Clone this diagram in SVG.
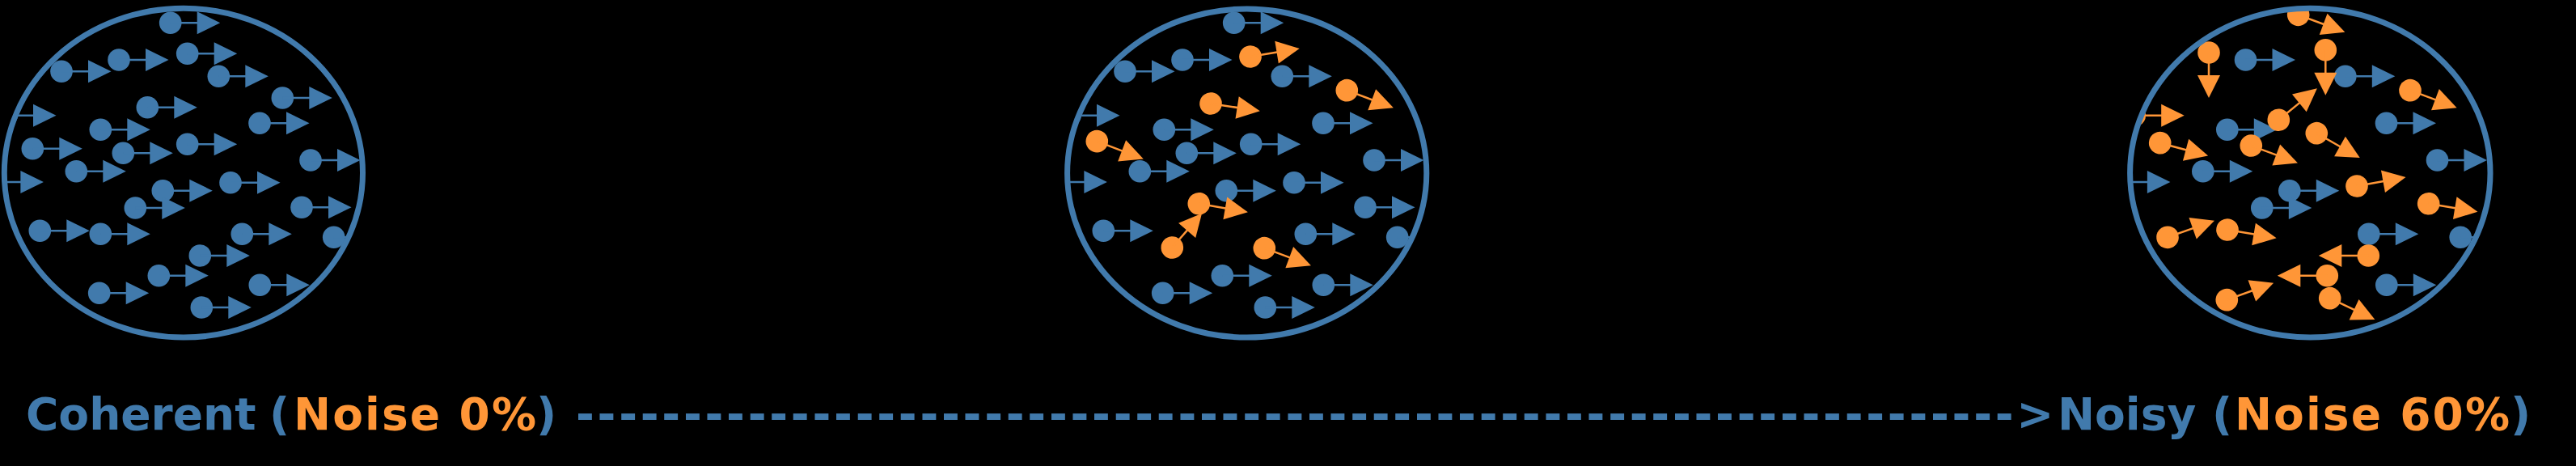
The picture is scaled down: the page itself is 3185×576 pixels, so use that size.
<svg xmlns="http://www.w3.org/2000/svg" width="3185" height="576" viewBox="0 0 3185 576">
<style>
.ring{fill:none;stroke:#417AAC;stroke-width:7}
.lbl{font-family:"DejaVu Sans","Liberation Sans",sans-serif;font-weight:bold;font-size:55px}
.bl{fill:#417AAC}
.or{fill:#FF9637}
</style>
<defs>
<g id="pb"><circle r="13.8" fill="#417AAC"/><path d="M0 0H35" stroke="#417AAC" stroke-width="2.5"/><path d="M33 -14L61.5 0L33 14Z" fill="#417AAC"/></g>
<g id="po"><circle r="13.8" fill="#FF9637"/><path d="M0 0H35" stroke="#FF9637" stroke-width="2.5"/><path d="M33 -14L61.5 0L33 14Z" fill="#FF9637"/></g>
<g id="pos"><circle r="13.8" fill="#FF9637"/><path d="M0 0H30" stroke="#FF9637" stroke-width="2.5"/><path d="M28 -14L56 0L28 14Z" fill="#FF9637"/></g>
<clipPath id="c1"><ellipse cx="226.9" cy="213.7" rx="221.6" ry="203.4"/></clipPath>
<clipPath id="c2"><ellipse cx="1541.7" cy="214" rx="222.1" ry="203.1"/></clipPath>
<clipPath id="c3"><ellipse cx="2856.3" cy="213.7" rx="222.7" ry="203.4"/></clipPath>
</defs>
<rect width="3185" height="576" fill="#000"/>

<g id="panel-coherent">
<g clip-path="url(#c1)">
<use href="#pb" transform="translate(210.7,28.3)"/>
<use href="#pb" transform="translate(76,88.3)"/>
<use href="#pb" transform="translate(147,74)"/>
<use href="#pb" transform="translate(231.7,66.3)"/>
<use href="#pb" transform="translate(270.3,94.3)"/>
<use href="#pb" transform="translate(349.3,121)"/>
<use href="#pb" transform="translate(8,142.7)"/>
<use href="#pb" transform="translate(182.3,132.7)"/>
<use href="#pb" transform="translate(124.3,160.3)"/>
<use href="#pb" transform="translate(321,152.3)"/>
<use href="#pb" transform="translate(40.3,183.7)"/>
<use href="#pb" transform="translate(152.3,189.3)"/>
<use href="#pb" transform="translate(231.7,178.3)"/>
<use href="#pb" transform="translate(384,198)"/>
<use href="#pb" transform="translate(94.3,211.7)"/>
<use href="#pb" transform="translate(-7.6,225)"/>
<use href="#pb" transform="translate(201.3,235.7)"/>
<use href="#pb" transform="translate(285,225.7)"/>
<use href="#pb" transform="translate(167.3,257)"/>
<use href="#pb" transform="translate(373,256.3)"/>
<use href="#pb" transform="translate(49.3,285.3)"/>
<use href="#pb" transform="translate(124.3,289.3)"/>
<use href="#pb" transform="translate(299.3,289.3)"/>
<use href="#pb" transform="translate(412.7,293.3)"/>
<use href="#pb" transform="translate(247.3,316)"/>
<use href="#pb" transform="translate(196.3,340.7)"/>
<use href="#pb" transform="translate(122.7,362.3)"/>
<use href="#pb" transform="translate(321.3,352.3)"/>
<use href="#pb" transform="translate(249.3,380)"/>
</g>
<ellipse class="ring" cx="226.9" cy="213.7" rx="221.6" ry="203.4"/>
</g>

<g id="panel-middle">
<g clip-path="url(#c2)">
<use href="#pb" transform="translate(1525.7,28.3)"/>
<use href="#pb" transform="translate(1391,88.3)"/>
<use href="#pb" transform="translate(1462,74)"/>
<use href="#pb" transform="translate(1585.3,94.3)"/>
<use href="#pb" transform="translate(1323,142.7)"/>
<use href="#pb" transform="translate(1439.3,160.3)"/>
<use href="#pb" transform="translate(1636,152.3)"/>
<use href="#pb" transform="translate(1467.3,189.3)"/>
<use href="#pb" transform="translate(1546.7,178.3)"/>
<use href="#pb" transform="translate(1699,198)"/>
<use href="#pb" transform="translate(1409.3,211.7)"/>
<use href="#pb" transform="translate(1307.4,225)"/>
<use href="#pb" transform="translate(1516.3,235.7)"/>
<use href="#pb" transform="translate(1600,225.7)"/>
<use href="#pb" transform="translate(1688,256.3)"/>
<use href="#pb" transform="translate(1364.3,285.3)"/>
<use href="#pb" transform="translate(1614.3,289.3)"/>
<use href="#pb" transform="translate(1727.7,293.3)"/>
<use href="#pb" transform="translate(1511.3,340.7)"/>
<use href="#pb" transform="translate(1437.7,362.3)"/>
<use href="#pb" transform="translate(1636.3,352.3)"/>
<use href="#pb" transform="translate(1564.3,380)"/>
<use href="#po" transform="translate(1546,70) rotate(-9.3)"/>
<use href="#po" transform="translate(1665.3,111.7) rotate(20.5)"/>
<use href="#po" transform="translate(1497,128) rotate(8.7)"/>
<use href="#po" transform="translate(1356.3,174.7) rotate(20.8)"/>
<use href="#po" transform="translate(1482.3,251.7) rotate(9.9)"/>
<use href="#pos" transform="translate(1449.3,306) rotate(-49)"/>
<use href="#po" transform="translate(1563.3,306.7) rotate(20.4)"/>
</g>
<ellipse class="ring" cx="1541.7" cy="214" rx="222.1" ry="203.1"/>
</g>

<g id="panel-noisy">
<g clip-path="url(#c3)">
<use href="#pb" transform="translate(2776.5,74)"/>
<use href="#pb" transform="translate(2899.8,94.3)"/>
<use href="#pb" transform="translate(2753.8,160.3)"/>
<use href="#pb" transform="translate(2950.5,152.3)"/>
<use href="#pb" transform="translate(3013.5,198)"/>
<use href="#pb" transform="translate(2723.8,211.7)"/>
<use href="#pb" transform="translate(2621.9,225)"/>
<use href="#pb" transform="translate(2830.8,235.7)"/>
<use href="#pb" transform="translate(2796.8,257)"/>
<use href="#pb" transform="translate(2928.8,289.3)"/>
<use href="#pb" transform="translate(3042.2,293.3)"/>
<use href="#pb" transform="translate(2950.8,352.3)"/>
<use href="#po" transform="translate(2841.7,18.3) rotate(20.4)"/>
<use href="#pos" transform="translate(2731,65) rotate(90)"/>
<use href="#pos" transform="translate(2875.3,61.7) rotate(90)"/>
<use href="#po" transform="translate(2980,111.7) rotate(20.4)"/>
<use href="#po" transform="translate(2639.2,142.7)"/>
<use href="#po" transform="translate(2817.3,148.3) rotate(-39.3)"/>
<use href="#po" transform="translate(2670.7,176.7) rotate(15)"/>
<use href="#po" transform="translate(2783.3,180) rotate(20.4)"/>
<use href="#po" transform="translate(2864.3,164.7) rotate(29.6)"/>
<use href="#po" transform="translate(2914,230) rotate(-10.2)"/>
<use href="#po" transform="translate(3002.7,251.7) rotate(9.4)"/>
<use href="#po" transform="translate(2680,293.3) rotate(-19.5)"/>
<use href="#po" transform="translate(2754,284) rotate(9.6)"/>
<use href="#po" transform="translate(2928.3,316) rotate(180)"/>
<use href="#po" transform="translate(2877.3,340.7) rotate(180)"/>
<use href="#po" transform="translate(2753.3,370.7) rotate(-20)"/>
<use href="#po" transform="translate(2880.7,368.7) rotate(25.2)"/>
</g>
<ellipse class="ring" cx="2856.3" cy="213.7" rx="222.7" ry="203.4"/>
</g>

<g id="caption" class="lbl">
<text x="32" y="531" class="bl">Coherent</text>
<text x="333" y="531" class="bl">(</text>
<text x="363" y="531" class="or" textLength="300" lengthAdjust="spacing">Noise 0%</text>
<text x="663" y="531" class="bl">)</text>
<text x="712" y="531" class="bl" letter-spacing="3.76">-------------------------------------------------------------------&gt;</text>
<text x="2544" y="531" class="bl">Noisy</text>
<text x="2735" y="531" class="bl">(</text>
<text x="2763" y="531" class="or" textLength="340" lengthAdjust="spacing">Noise 60%</text>
<text x="3104" y="531" class="bl">)</text>
</g>
</svg>
